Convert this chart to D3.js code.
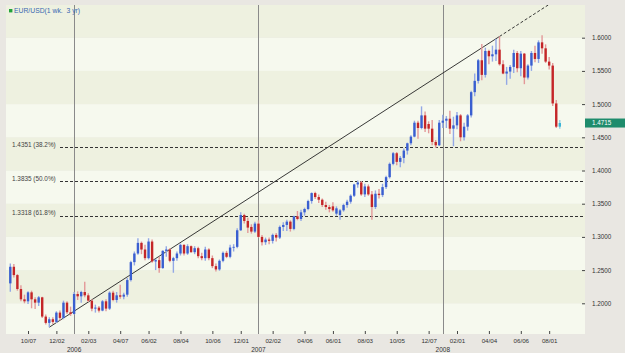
<!DOCTYPE html>
<html><head><meta charset="utf-8">
<script src="https://cdn.jsdelivr.net/npm/d3@7"></script>
<style>html,body{margin:0;padding:0;background:#e9e7e2;} svg{display:block;font-family:"Liberation Sans",Arial,sans-serif;}</style>
</head><body><svg id="c" width="625" height="353"></svg>
<script>
const dates = [
"2005-09-02","2005-09-09","2005-09-16","2005-09-23","2005-09-30","2005-10-07","2005-10-14","2005-10-21","2005-10-28","2005-11-04","2005-11-11","2005-11-18","2005-11-25","2005-12-02","2005-12-09","2005-12-16","2005-12-23","2005-12-30",
"2006-01-06","2006-01-13","2006-01-20","2006-01-27","2006-02-03","2006-02-10","2006-02-17","2006-02-24","2006-03-03","2006-03-10","2006-03-17","2006-03-24","2006-03-31","2006-04-07","2006-04-14","2006-04-21","2006-04-28","2006-05-05","2006-05-12","2006-05-19","2006-05-26","2006-06-02","2006-06-09","2006-06-16","2006-06-23","2006-06-30","2006-07-07","2006-07-14","2006-07-21","2006-07-28","2006-08-04","2006-08-11","2006-08-18","2006-08-25","2006-09-01","2006-09-08","2006-09-15","2006-09-22","2006-09-29","2006-10-06","2006-10-13","2006-10-20","2006-10-27","2006-11-03","2006-11-10","2006-11-17","2006-11-24","2006-12-01","2006-12-08","2006-12-15","2006-12-22","2006-12-29",
"2007-01-05","2007-01-12","2007-01-19","2007-01-26","2007-02-02","2007-02-09","2007-02-16","2007-02-23","2007-03-02","2007-03-09","2007-03-16","2007-03-23","2007-03-30","2007-04-06","2007-04-13","2007-04-20","2007-04-27","2007-05-04","2007-05-11","2007-05-18","2007-05-25","2007-06-01","2007-06-08","2007-06-15","2007-06-22","2007-06-29","2007-07-06","2007-07-13","2007-07-20","2007-07-27","2007-08-03","2007-08-10","2007-08-17","2007-08-24","2007-08-31","2007-09-07","2007-09-14","2007-09-21","2007-09-28","2007-10-05","2007-10-12","2007-10-19","2007-10-26","2007-11-02","2007-11-09","2007-11-16","2007-11-23","2007-11-30","2007-12-07","2007-12-14","2007-12-21","2007-12-28",
"2008-01-04","2008-01-11","2008-01-18","2008-01-25","2008-02-01","2008-02-08","2008-02-15","2008-02-22","2008-02-29","2008-03-07","2008-03-14","2008-03-21","2008-03-28","2008-04-04","2008-04-11","2008-04-18","2008-04-25","2008-05-02","2008-05-09","2008-05-16","2008-05-23","2008-05-30","2008-06-06","2008-06-13","2008-06-20","2008-06-27","2008-07-04","2008-07-11","2008-07-18","2008-07-25","2008-08-01","2008-08-08","2008-08-15","2008-08-22"];

const open = [1.2300,1.2550,1.2425,1.2215,1.2060,1.2030,1.2165,1.2060,1.2010,1.2090,1.1800,1.1705,1.1760,1.1720,1.1860,1.1780,1.2010,1.1865,
1.1840,1.2140,1.2105,1.2170,1.2120,1.2040,1.1920,1.1935,1.1890,1.2030,1.1920,1.2160,1.2050,1.2120,1.2100,1.2130,1.2350,1.2620,1.2750,1.2910,1.2810,1.2680,1.2930,1.2630,1.2650,1.2530,1.2790,1.2810,1.2640,1.2680,1.2750,1.2880,1.2750,1.2860,1.2770,1.2830,1.2710,1.2680,1.2810,1.2680,1.2560,1.2510,1.2640,1.2760,1.2700,1.2840,1.2850,1.3100,1.3330,1.3240,1.3150,1.3080,
1.3200,1.3000,1.2920,1.2960,1.2940,1.3030,1.2990,1.3150,1.3180,1.3230,1.3120,1.3310,1.3270,1.3370,1.3420,1.3540,1.3660,1.3600,1.3560,1.3480,1.3450,1.3460,1.3350,1.3330,1.3400,1.3480,1.3530,1.3620,1.3790,1.3820,1.3640,1.3760,1.3640,1.3450,1.3650,1.3630,1.3750,1.3900,1.4100,1.4260,1.4130,1.4190,1.4300,1.4410,1.4510,1.4720,1.4640,1.4830,1.4700,1.4630,1.4430,1.4380,
1.4720,1.4750,1.4780,1.4630,1.4680,1.4830,1.4500,1.4660,1.4830,1.5180,1.5350,1.5660,1.5440,1.5800,1.5720,1.5750,1.5820,1.5600,1.5460,1.5490,1.5560,1.5770,1.5540,1.5760,1.5400,1.5580,1.5770,1.5680,1.5930,1.5840,1.5640,1.5580,1.5010,1.4660];

const high = [1.2600,1.2590,1.2440,1.2270,1.2130,1.2180,1.2190,1.2090,1.2110,1.2100,1.1830,1.1790,1.1790,1.1880,1.1890,1.2040,1.2030,1.1950,
1.2170,1.2180,1.2190,1.2325,1.2150,1.2060,1.1980,1.1960,1.2050,1.2060,1.2180,1.2190,1.2170,1.2280,1.2160,1.2380,1.2640,1.2780,1.2980,1.2930,1.2880,1.2980,1.2960,1.2670,1.2700,1.2800,1.2860,1.2830,1.2700,1.2780,1.2900,1.2890,1.2890,1.2870,1.2860,1.2850,1.2760,1.2850,1.2830,1.2720,1.2600,1.2660,1.2780,1.2790,1.2880,1.2890,1.3130,1.3370,1.3350,1.3290,1.3190,1.3230,
1.3250,1.3030,1.2990,1.2990,1.3050,1.3060,1.3170,1.3220,1.3260,1.3250,1.3320,1.3390,1.3410,1.3440,1.3560,1.3670,1.3680,1.3640,1.3580,1.3530,1.3480,1.3520,1.3460,1.3420,1.3500,1.3560,1.3640,1.3800,1.3850,1.3840,1.3800,1.3790,1.3690,1.3700,1.3720,1.3800,1.3920,1.4120,1.4280,1.4280,1.4220,1.4330,1.4420,1.4530,1.4750,1.4750,1.4966,1.4890,1.4740,1.4760,1.4460,1.4760,
1.4840,1.4820,1.4900,1.4810,1.4880,1.4850,1.4720,1.4850,1.5200,1.5460,1.5680,1.5905,1.5850,1.5820,1.5880,1.5980,1.6019,1.5660,1.5560,1.5590,1.5820,1.5800,1.5800,1.5770,1.5600,1.5800,1.5880,1.5960,1.6038,1.5900,1.5710,1.5620,1.5060,1.4760];

const low = [1.2175,1.2390,1.2190,1.2030,1.2000,1.1990,1.1925,1.1915,1.1960,1.1780,1.1680,1.1640,1.1690,1.1705,1.1740,1.1760,1.1840,1.1810,
1.1830,1.2050,1.2010,1.2090,1.2020,1.1880,1.1860,1.1860,1.1880,1.1880,1.1900,1.2030,1.2010,1.2070,1.2060,1.2100,1.2330,1.2570,1.2730,1.2740,1.2650,1.2660,1.2610,1.2500,1.2460,1.2520,1.2700,1.2620,1.2460,1.2640,1.2720,1.2720,1.2730,1.2760,1.2740,1.2680,1.2650,1.2640,1.2650,1.2530,1.2480,1.2490,1.2620,1.2680,1.2680,1.2780,1.2830,1.3090,1.3200,1.3060,1.3050,1.3060,
1.2990,1.2870,1.2880,1.2890,1.2900,1.2930,1.2970,1.3090,1.3090,1.3080,1.3100,1.3250,1.3240,1.3320,1.3400,1.3500,1.3570,1.3510,1.3450,1.3410,1.3370,1.3380,1.3320,1.3260,1.3380,1.3440,1.3500,1.3600,1.3740,1.3620,1.3600,1.3620,1.3260,1.3420,1.3580,1.3600,1.3720,1.3880,1.4080,1.4080,1.4050,1.4110,1.4240,1.4380,1.4500,1.4480,1.4620,1.4580,1.4560,1.4380,1.4340,1.4370,
1.4640,1.4640,1.4550,1.4365,1.4620,1.4440,1.4450,1.4600,1.4800,1.5120,1.5310,1.5360,1.5400,1.5600,1.5640,1.5650,1.5580,1.5450,1.5290,1.5380,1.5470,1.5480,1.5420,1.5300,1.5370,1.5500,1.5630,1.5620,1.5760,1.5620,1.5520,1.4970,1.4640,1.4630];

const close = [1.2550,1.2425,1.2215,1.2060,1.2030,1.2165,1.2060,1.2010,1.2090,1.1800,1.1705,1.1760,1.1720,1.1860,1.1780,1.2010,1.1865,1.1840,
1.2140,1.2105,1.2170,1.2120,1.2040,1.1920,1.1935,1.1890,1.2030,1.1920,1.2160,1.2050,1.2120,1.2100,1.2130,1.2350,1.2620,1.2750,1.2910,1.2810,1.2680,1.2930,1.2630,1.2650,1.2530,1.2790,1.2810,1.2640,1.2680,1.2750,1.2880,1.2750,1.2860,1.2770,1.2830,1.2710,1.2680,1.2810,1.2680,1.2560,1.2510,1.2640,1.2760,1.2700,1.2840,1.2850,1.3100,1.3330,1.3240,1.3140,1.3080,1.3200,
1.3000,1.2920,1.2960,1.2940,1.3030,1.2990,1.3150,1.3180,1.3230,1.3120,1.3310,1.3270,1.3370,1.3420,1.3540,1.3660,1.3600,1.3560,1.3480,1.3450,1.3420,1.3400,1.3430,1.3400,1.3480,1.3530,1.3620,1.3790,1.3820,1.3640,1.3760,1.3640,1.3450,1.3650,1.3630,1.3750,1.3900,1.4100,1.4260,1.4130,1.4190,1.4300,1.4410,1.4510,1.4720,1.4640,1.4830,1.4630,1.4630,1.4430,1.4380,1.4720,
1.4750,1.4780,1.4630,1.4680,1.4830,1.4500,1.4660,1.4830,1.5180,1.5350,1.5660,1.5440,1.5800,1.5720,1.5750,1.5820,1.5600,1.5460,1.5490,1.5560,1.5770,1.5540,1.5760,1.5400,1.5580,1.5770,1.5680,1.5930,1.5840,1.5640,1.5580,1.5010,1.4660,1.4715];

const yTicks = [1.20,1.25,1.30,1.35,1.40,1.45,1.50,1.55,1.60];
const xTickDates = ["2005-10-07","2005-12-02","2006-02-03","2006-04-07","2006-06-02","2006-08-04","2006-10-06","2006-12-01","2007-02-02","2007-04-06","2007-06-01","2007-08-03","2007-10-05","2007-12-07","2008-02-01","2008-04-04","2008-06-06","2008-08-01"];
const xTickLabels = ["10/07","12/02","02/03","04/07","06/02","08/04","10/06","12/01","02/02","04/06","06/01","08/03","10/05","12/07","02/01","04/04","06/06","08/01"];
const yearStarts = ["2006-01-06","2007-01-05","2008-01-04"];
const yearLabels = ["2006","2007","2008"];
const fibValues = [1.4351,1.3835,1.3318];
const fibLabels = ["1.4351 (38.2%)","1.3835 (50.0%)","1.3318 (61.8%)"];
const lastPrice = 1.4715;
const trendFrom = {date:"2005-11-18", value:1.1640};
const trendTo = {date:"2008-04-25", value:1.6019};
const titleText = "EUR/USD(1 wk.  3 yr)";

const parse = d3.utcParse("%Y-%m-%d");
const L = 6, R = 585, T = 5, B = 334;
const svg = d3.select("#c");
const x = d3.scaleUtc().domain([parse(dates[0]), parse(dates[dates.length-1])]).range([10.3, 559.8]);
const y = d3.scaleLinear().domain([1.2, 1.6]).range([303.3, 37.7]);

svg.append("rect").attr("width",625).attr("height",353).attr("fill","#e9e7e2");
svg.append("defs").append("clipPath").attr("id","plot").append("rect")
  .attr("x",L).attr("y",T).attr("width",R-L).attr("height",B-T);

const plot = svg.append("g").attr("clip-path","url(#plot)");
// bands
const step = yTicks[1]-yTicks[0];
const bandLows = [yTicks[0]-step].concat(yTicks);
plot.selectAll("rect.band").data(bandLows).join("rect").attr("class","band")
  .attr("x",L).attr("width",R-L)
  .attr("y",d=>y(d+step)).attr("height",d=>y(d)-y(d+step))
  .attr("fill",(d,i)=> (i%2===1) ? "#eef1e0" : "#f6f9ee");

// year separators
plot.selectAll("line.sep").data(yearStarts).join("line")
  .attr("x1",d=>Math.round(x(parse(d)))+0.5).attr("x2",d=>Math.round(x(parse(d)))+0.5)
  .attr("y1",T).attr("y2",B).attr("stroke","#8a8a8a").attr("stroke-width",1);

// fib lines
plot.selectAll("line.fib").data(fibValues).join("line")
  .attr("x1",60).attr("x2",R).attr("y1",d=>Math.round(y(d))+0.5).attr("y2",d=>Math.round(y(d))+0.5)
  .attr("stroke","#333").attr("stroke-width",1).attr("stroke-dasharray","3,2");
svg.selectAll("text.fib").data(fibLabels).join("text")
  .attr("x",12).attr("y",(d,i)=>y(fibValues[i])-0.5)
  .attr("font-size",6.4).attr("fill","#444").text(d=>d);

// trend line
const ax = x(parse(trendFrom.date)), ay = y(trendFrom.value);
const bx = x(parse(trendTo.date)), by = y(trendTo.value);
const slope = (by-ay)/(bx-ax);
const ex = bx + (T-by)/slope;
plot.append("line").attr("x1",ax).attr("y1",ay).attr("x2",bx).attr("y2",by)
  .attr("stroke","#222").attr("stroke-width",0.9);
plot.append("line").attr("x1",bx).attr("y1",by).attr("x2",ex).attr("y2",T)
  .attr("stroke","#222").attr("stroke-width",0.9).attr("stroke-dasharray","3,2");

// candles
const data = dates.map((d,i)=>({d:parse(d),o:open[i],h:high[i],l:low[i],c:close[i],last:i===dates.length-1}));
const bodyCol = d=> d.last ? "#3ab4d6" : (d.c>=d.o ? "#3a5fd0" : "#c42628");
const wickCol = d=> d.last ? "#8fd2e6" : (d.c>=d.o ? "#93a8e6" : "#e39898");
const cg = plot.append("g");
cg.selectAll("line.wick").data(data).join("line")
  .attr("x1",d=>x(d.d)).attr("x2",d=>x(d.d)).attr("y1",d=>y(d.h)).attr("y2",d=>y(d.l))
  .attr("stroke",wickCol).attr("stroke-width",1.4);
cg.selectAll("rect.body").data(data).join("rect")
  .attr("x",d=>x(d.d)-1.2).attr("width",2.4)
  .attr("y",d=>y(Math.max(d.o,d.c))).attr("height",d=>Math.max(0.8,Math.abs(y(d.o)-y(d.c))))
  .attr("fill",bodyCol);

// right axis
const ya = d3.axisRight(y).tickValues(yTicks).tickFormat(d3.format(".4f")).tickSize(3).tickPadding(7);
const yg = svg.append("g").attr("transform",`translate(${R-3},0)`).call(ya);
yg.select(".domain").remove();
yg.selectAll("line").attr("stroke","#444");
yg.selectAll("text").attr("font-size",6.3).attr("fill","#333").attr("font-family","Liberation Sans, Arial, sans-serif");

// bottom axis
const xa = d3.axisBottom(x).tickValues(xTickDates.map(parse)).tickFormat((d,i)=>xTickLabels[i]).tickSize(3).tickPadding(4.6);
const xg = svg.append("g").attr("transform",`translate(0,${B-3})`).call(xa);
xg.select(".domain").remove();
xg.selectAll("line").attr("stroke","#444");
xg.selectAll("text").attr("font-size",6.2).attr("fill","#333").attr("font-family","Liberation Sans, Arial, sans-serif");

svg.selectAll("text.year").data(yearLabels).join("text")
  .attr("x",(d,i)=>x(parse(yearStarts[i]))).attr("y",352).attr("text-anchor","middle")
  .attr("font-size",6.5).attr("fill","#333").text(d=>d);

// current price tag
const py = y(lastPrice);
svg.append("rect").attr("x",R).attr("y",py-4.5).attr("width",40).attr("height",9).attr("fill","#1e8c6c");
svg.append("text").attr("x",592).attr("y",py+2.3).attr("font-size",6.3).attr("fill","#fff").text(d3.format(".4f")(lastPrice));

// title
svg.append("rect").attr("x",9).attr("y",9).attr("width",3.4).attr("height",3.4).attr("fill","#22a33a");
svg.append("text").attr("x",14).attr("y",13).attr("font-size",6.8).attr("fill","#3a68b0")
  .attr("xml:space","preserve").style("white-space","pre").text(titleText);
</script></body></html>
